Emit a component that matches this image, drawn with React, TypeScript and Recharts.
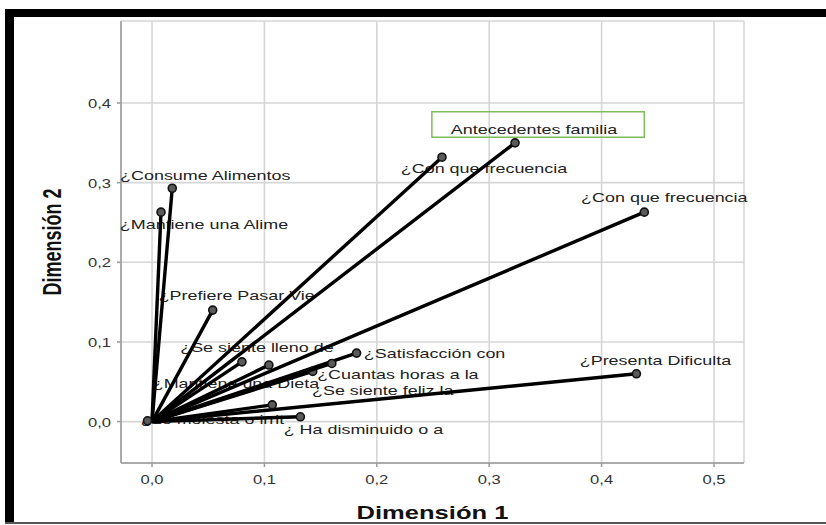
import React from "react";
import {
  ScatterChart,
  Scatter,
  XAxis,
  YAxis,
  CartesianGrid,
  ReferenceArea,
} from "recharts";

// component loadings (Dimensión 1 / Dimensión 2)
const variables = [
  "¿Consume Alimentos",
  "¿Mantiene una Alime",
  "¿Prefiere Pasar Vie",
  "¿Con que frecuencia",
  "Antecedentes familia",
  "¿Con que frecuencia",
  "¿Presenta Dificulta",
  "¿Satisfacción con",
  "¿Se siente lleno de",
  "¿Mantiene una Dieta",
  "¿Se siente feliz la",
  "¿Cuantas horas a la",
  "",
  "¿ Ha disminuido o a",
  "¿Le molesta o irrit",
];
const dimension1 = [
  0.018, 0.008, 0.054, 0.258, 0.323, 0.438, 0.431, 0.182, 0.08, 0.104, 0.143,
  0.16, 0.107, 0.132, -0.004,
];
const dimension2 = [
  0.293, 0.263, 0.14, 0.332, 0.35, 0.263, 0.06, 0.086, 0.075, 0.071, 0.063,
  0.073, 0.021, 0.006, 0.001,
];
const xTicks = [0, 0.1, 0.2, 0.3, 0.4, 0.5];
const yTicks = [0, 0.1, 0.2, 0.3, 0.4];

// label placement, pixels relative to the point (text centre, baseline)
const labelOffsets: [number, number][] = [
  [33, -8],
  [43, 17],
  [24, -10],
  [42, 16],
  [19, -9],
  [20, -10],
  [19, -9],
  [78, 5],
  [15, -10],
  [-33, 23],
  [70, 24],
  [66, 16],
  [0, 0],
  [63, 17],
  [65, 3],
];

// highlighted label box (data coords)
const highlightBox = { x1: 0.249, x2: 0.438, y1: 0.357, y2: 0.389 };

const FONT = "'Liberation Sans', Arial, sans-serif";
const SX = 1.38; // source picture is stretched horizontally

const fmt = (v: number) => v.toFixed(1).replace(".", ",");

function StretchText({
  x,
  y,
  children,
  anchor = "middle",
  size = 13,
  fill = "#222",
  weight = "normal",
  rotate = 0,
  sx = SX,
}: any) {
  return (
    <text
      transform={`translate(${x},${y}) scale(${sx},1)${rotate ? ` rotate(${rotate})` : ""}`}
      textAnchor={anchor}
      fontFamily={FONT}
      fontSize={size}
      fontWeight={weight}
      fill={fill}
    >
      {children}
    </text>
  );
}

const XTick = ({ x, y, payload }: any) => (
  <StretchText x={x} y={y + 15} size={12} fill="#333">
    {fmt(payload.value)}
  </StretchText>
);

const YTick = ({ x, y, payload }: any) => (
  <StretchText x={x} y={y + 5} anchor="end" size={12} fill="#333">
    {fmt(payload.value)}
  </StretchText>
);

const endpoints = variables.map((name, i) => ({
  x: dimension1[i],
  y: dimension2[i],
  name,
  dx: labelOffsets[i][0],
  dy: labelOffsets[i][1],
}));

const LabelShape = (props: any) => {
  const { cx, cy, payload } = props;
  if (!payload.name) return <g />;
  return (
    <StretchText x={cx + payload.dx} y={cy + payload.dy}>
      {payload.name}
    </StretchText>
  );
};

const EndDot = (props: any) => {
  const { cx, cy, payload } = props;
  if (!payload.end) return <g />;
  return (
    <circle cx={cx} cy={cy} r={4} fill="#5a5a5a" stroke="#111" strokeWidth={1.6} />
  );
};

export default function App() {
  return (
    <div
      style={{
        position: "absolute",
        left: 0,
        top: 0,
        width: 826,
        height: 525,
        background: "#fff",
      }}
    >
      <ScatterChart
        width={826}
        height={525}
        margin={{ top: 21, right: 82, left: 61, bottom: 32 }}
      >
        <CartesianGrid stroke="#d6d6d6" strokeWidth={1.6} />
        <XAxis
          type="number"
          dataKey="x"
          domain={[-0.0276, 0.5267]}
          ticks={xTicks}
          stroke="#9a9a9a"
          strokeWidth={1.5}
          tickSize={4}
          tick={<XTick />}
          height={30}
          label={{
            content: ({ viewBox }: any) => (
              <StretchText
                x={viewBox.x + viewBox.width / 2}
                y={viewBox.y + 56}
                size={18}
                weight="bold"
                fill="#111"
                sx={1.42}
              >
                Dimensión 1
              </StretchText>
            ),
          }}
        />
        <YAxis
          type="number"
          dataKey="y"
          domain={[-0.052, 0.503]}
          ticks={yTicks}
          stroke="#9a9a9a"
          strokeWidth={1.5}
          tickSize={4}
          tickMargin={6}
          tick={<YTick />}
          width={60}
          label={{
            content: ({ viewBox }: any) => (
              <StretchText
                x={61}
                y={viewBox.y + viewBox.height / 2}
                size={18}
                weight="bold"
                fill="#111"
                rotate={-90}
                sx={1.42}
              >
                Dimensión 2
              </StretchText>
            ),
          }}
        />
        <ReferenceArea
          x1={highlightBox.x1}
          x2={highlightBox.x2}
          y1={highlightBox.y1}
          y2={highlightBox.y2}
          fill="none"
          fillOpacity={0}
          stroke="#7dbd5b"
          strokeWidth={1.5}
          ifOverflow="visible"
        />
        <Scatter
          data={endpoints}
          shape={LabelShape}
          isAnimationActive={false}
        />
        {endpoints.map((p, i) => (
          <Scatter
            key={i}
            data={[
              { x: 0, y: 0, end: false },
              { x: p.x, y: p.y, end: true },
            ]}
            fill="#000"
            line={{ stroke: "#000", strokeWidth: 3.4 }}
            shape={EndDot}
            isAnimationActive={false}
          />
        ))}
      </ScatterChart>
      {/* picture frame */}
      <div style={{ position: "absolute", left: 5, top: 9, width: 821, height: 8, background: "#000" }} />
      <div style={{ position: "absolute", left: 5, top: 9, width: 9, height: 515, background: "#000" }} />
      <div style={{ position: "absolute", left: 5, top: 522, width: 821, height: 2, background: "#555" }} />
    </div>
  );
}
